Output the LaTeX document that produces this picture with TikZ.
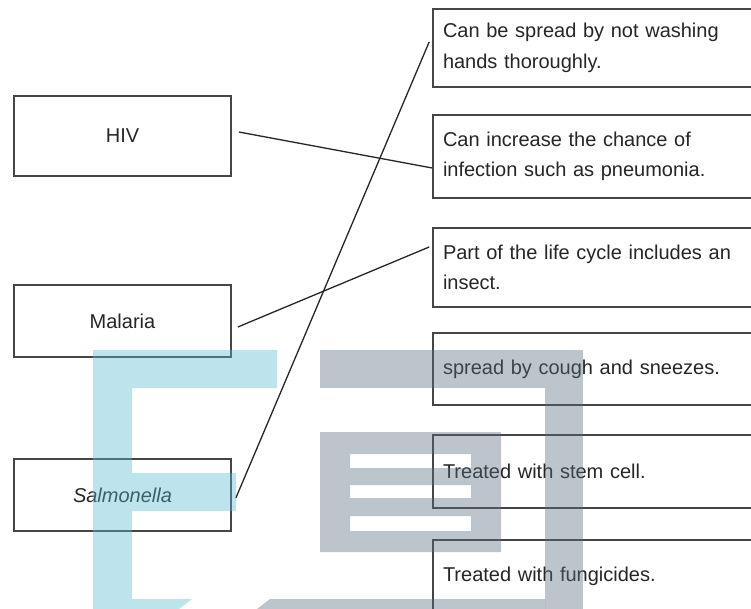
\documentclass[tikz,border=0pt]{standalone}
\usepackage{fontspec}
\setmainfont{Liberation Sans}
\definecolor{boxline}{HTML}{454545}
\definecolor{txt}{HTML}{262626}
\definecolor{wmblue}{RGB}{90,185,212}
\definecolor{wmgray}{RGB}{88,108,128}
\tikzset{
  leftbox/.style={draw=boxline, line width=1.7pt, fill=white, minimum width=217pt, inner sep=0pt, text=txt, font=\fontsize{20}{30.5}\selectfont},
  rightbox/.style={draw=boxline, line width=1.7pt, fill=white, minimum width=327pt, text width=307pt, inner xsep=10pt, inner ysep=0pt, align=left, text=txt, font=\fontsize{20}{30.5}\selectfont},
  link/.style={draw=black!85, line width=1.3pt},
  wmb/.style={fill=wmblue, opacity=0.4},
  wmg/.style={fill=wmgray, opacity=0.4, even odd rule}
}
\begin{document}
\begin{tikzpicture}[x=1pt, y=-1pt]
\clip (0,0) rectangle (751,609);
\fill[white] (0,0) rectangle (751,609);

% left boxes
\node[leftbox, minimum height=80pt] (hiv) at (122.5,136) {HIV};
\node[leftbox, minimum height=72pt] (mal) at (122.5,321) {Malaria};
\node[leftbox, minimum height=72pt] (sal) at (122.5,495) {\itshape Salmonella};

% right boxes
\node[rightbox, minimum height=78pt] (r1) at (596.5,48) {Can be spread by not washing\\hands thoroughly.};
\node[rightbox, minimum height=83pt] (r2) at (596.5,156.5) {Can increase the chance of\\infection such as pneumonia.};
\node[rightbox, minimum height=79pt] (r3) at (596.5,267.5) {Part of the life cycle includes an\\insect.};
\node[rightbox, minimum height=72pt] (r4) at (596.5,369) {spread by cough and sneezes.};
\node[rightbox, minimum height=73pt] (r5) at (596.5,471.5) {Treated with stem cell.};
\node[rightbox, minimum height=72pt] (r6) at (596.5,576) {Treated with fungicides.};

% connectors
\draw[link] ([xshift=7pt,yshift=4pt]hiv.east) -- ([yshift=-11.5pt]r2.west);
\draw[link] ([xshift=6pt,yshift=-6pt]mal.east) -- ([xshift=-3pt,yshift=20.5pt]r3.west);
\draw[link] ([xshift=4pt,yshift=-3pt]sal.east) -- ([xshift=-3pt,yshift=6pt]r1.west);

% watermark
\fill[wmb] (93,350) -- (277,350) -- (277,388) -- (132,388) -- (132,473) -- (236,473) -- (236,511) -- (132,511) -- (132,599) -- (192,599) -- (179,609) -- (93,609) -- cycle;
\fill[wmg] (320,350) rectangle (583,388);
\fill[wmg] (545,388) rectangle (583,609);
\fill[wmg] (270,599) -- (545,599) -- (545,609) -- (257,609) -- cycle;
\fill[wmg] (320,432) rectangle (501,552)
  (350,454) rectangle (471,468)
  (350,485) rectangle (471,498)
  (350,516) rectangle (471,531);
\end{tikzpicture}
\end{document}
